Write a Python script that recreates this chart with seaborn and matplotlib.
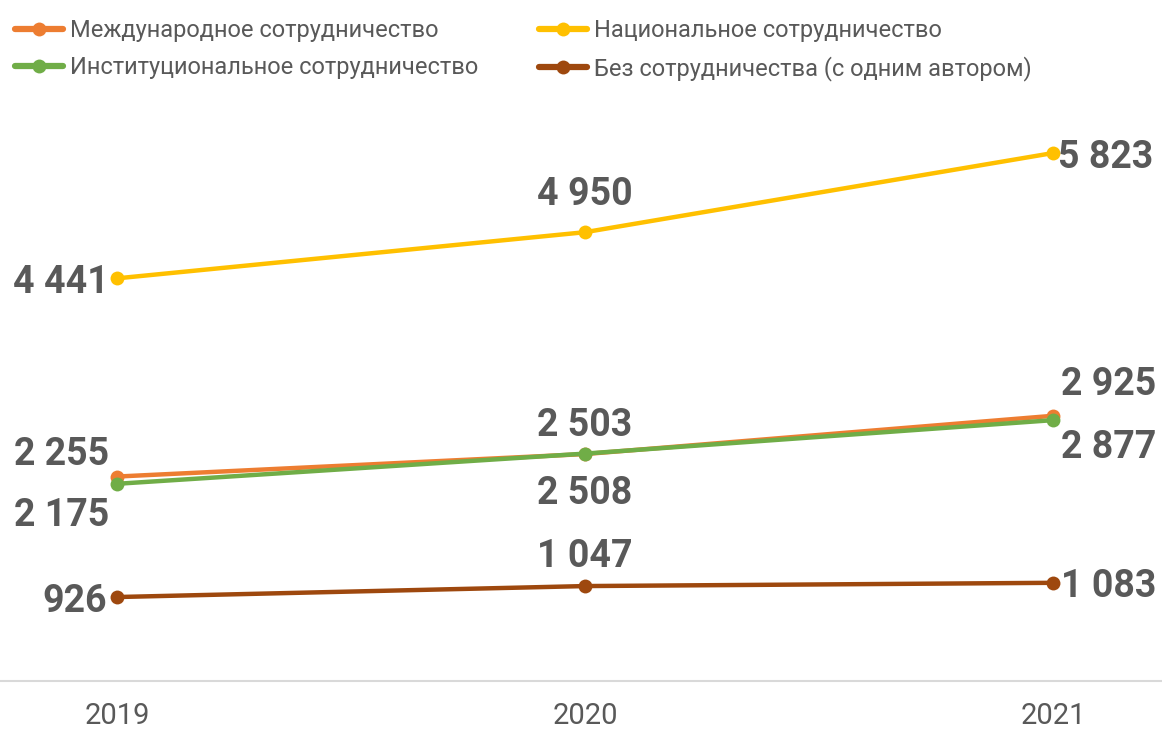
import matplotlib
matplotlib.use("Agg")
import matplotlib.pyplot as plt
import seaborn as sns
import pandas as pd

years = ["2019", "2020", "2021"]
series_names = [
    "Международное сотрудничество",
    "Национальное сотрудничество",
    "Институциональное сотрудничество",
    "Без сотрудничества (с одним автором)",
]
intl = [2255, 2503, 2925]
national = [4441, 4950, 5823]
institutional = [2175, 2508, 2877]
single = [926, 1047, 1083]
colors = ["#ED7D31", "#FFC000", "#70AD47", "#9E480E"]

values = [intl, national, institutional, single]
rows = []
for name, vals in zip(series_names, values):
    for i, v in enumerate(vals):
        rows.append({"x": i, "val": v, "series": name})
df = pd.DataFrame(rows)

sns.set_theme(style="white")
plt.rcParams["font.family"] = ["Roboto", "DejaVu Sans"]

fig = plt.figure(figsize=(11.62, 7.31), dpi=100)
ax = fig.add_axes([0, 50 / 731, 1, 681 / 731])

sns.lineplot(data=df, x="x", y="val", hue="series", hue_order=series_names,
             palette=colors, marker="o", markersize=10, markeredgewidth=0,
             linewidth=3.2, ax=ax, legend=True)

ax.set_xlim(-0.25, 2.233)
ax.set_ylim(0, 7511)
for s in ["top", "left", "right"]:
    ax.spines[s].set_visible(False)
ax.spines["bottom"].set_color("#D9D9D9")
ax.spines["bottom"].set_linewidth(1.5)
ax.set_yticks([])
ax.set_xticks([0, 1, 2])
ax.set_xticklabels(years, color="#595959", fontsize=21,
                   family=["Liberation Sans Narrow", "Roboto", "DejaVu Sans"])
ax.tick_params(axis="x", length=0, pad=15)
ax.set_xlabel("")
ax.set_ylabel("")

def fmt(v):
    return f"{v:,}".replace(",", " ")

# (dx, dy, ha) offsets in pixels for each label
offsets = [
    [(-55, 26, "center"), (0, 33, "center"), (56, 35, "center")],
    [(-8, 0, "right"), (0, 42, "center"), (5, 0, "left")],
    [(-55, -28, "center"), (0, -36, "center"), (56, -23, "center")],
    [(-10, 0, "right"), (0, 34, "center"), (8, 0, "left")],
]
for vals, offs in zip(values, offsets):
    for i, (v, (dx, dy, ha)) in enumerate(zip(vals, offs)):
        ax.annotate(fmt(v), (i, v), xytext=(dx, dy), textcoords="offset pixels",
                    ha=ha, va="center_baseline", fontsize=27, fontweight="bold",
                    color="#595959")

handles, labels = ax.get_legend_handles_labels()
ax.get_legend().remove()
order = [0, 2, 1, 3]
leg = fig.legend([handles[i] for i in order], [labels[i] for i in order],
                 ncol=2, loc="upper left", bbox_to_anchor=(-0.003, 1.0),
                 frameon=False, fontsize=17, handlelength=2.0,
                 handletextpad=0.3, columnspacing=2.6, labelspacing=0.6,
                 borderaxespad=0.4)
for t in leg.get_texts():
    t.set_color("#595959")
for h in leg.legend_handles:
    h.set_linewidth(4.5)

fig.savefig("out.png", dpi=100)
